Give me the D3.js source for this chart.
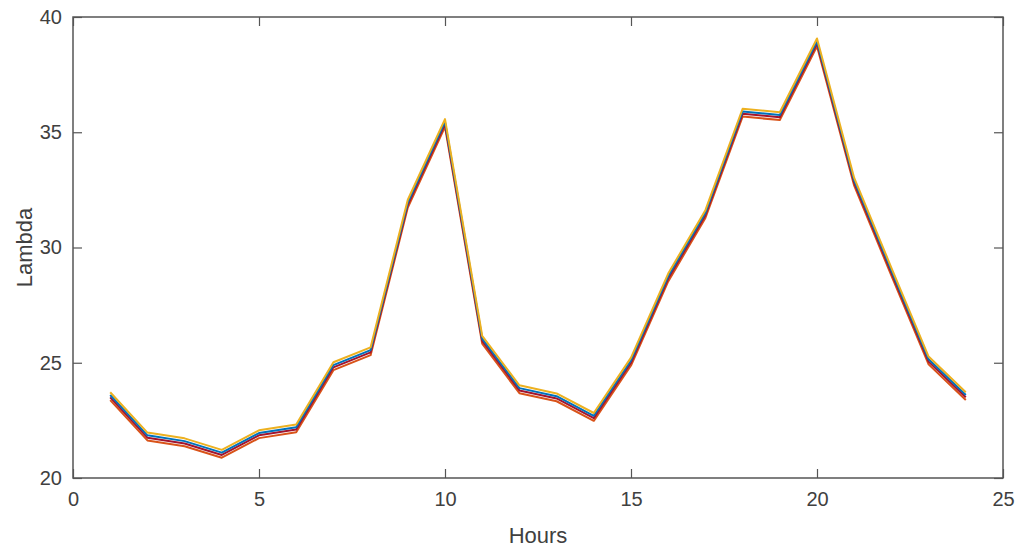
<!DOCTYPE html>
<html>
<head>
<meta charset="utf-8">
<script src="https://cdn.jsdelivr.net/npm/d3@7"></script>
<style>
  body { margin: 0; background: #fff; }
  text { font-family: "Liberation Sans", Arial, sans-serif; fill: #404040; }
</style>
</head>
<body>
<svg width="1024" height="552"></svg>
<script>
var hours = d3.range(1, 25);
var xTicks = [0, 5, 10, 15, 20, 25];
var yTicks = [20, 25, 30, 35, 40];

// one series per colour, bottom line first
var orange = [23.38,21.63,21.38,20.88,21.73,21.98,24.68,25.33,31.73,35.23,25.83,23.68,23.33,22.48,24.88,28.53,31.28,35.68,35.53,38.73,32.68,28.78,24.93,23.38];
var darkred = [23.5,21.75,21.5,21.0,21.85,22.1,24.8,25.45,31.85,35.35,25.95,23.8,23.45,22.6,25.0,28.65,31.4,35.8,35.65,38.85,32.8,28.9,25.05,23.5];
var blue = [23.6,21.85,21.6,21.1,21.95,22.2,24.9,25.55,31.95,35.45,26.05,23.9,23.55,22.7,25.1,28.75,31.5,35.9,35.75,38.95,32.9,29.0,25.15,23.6];
var yellow = [23.72,21.97,21.72,21.22,22.07,22.32,25.02,25.67,32.07,35.57,26.17,24.02,23.67,22.82,25.22,28.87,31.62,36.02,35.87,39.07,33.02,29.12,25.27,23.72];

var series = [
  { color: '#D95319', values: orange },
  { color: '#A2142F', values: darkred },
  { color: '#0072BD', values: blue },
  { color: '#EDB120', values: yellow }
];

var svg = d3.select('svg');
var pL = 73, pR = 1003, pT = 17, pB = 478;

var x = d3.scaleLinear().domain([0, 25]).range([pL, pR]);
var y = d3.scaleLinear().domain([20, 40]).range([pB, pT]);

var line = d3.line()
  .x(function(d, i) { return x(hours[i]); })
  .y(function(d) { return y(d); });

svg.append('g').selectAll('path')
  .data(series)
  .enter().append('path')
  .attr('d', function(d) { return line(d.values); })
  .attr('fill', 'none')
  .attr('stroke', function(d) { return d.color; })
  .attr('stroke-width', 2)
  .attr('stroke-linejoin', 'round');

var axisColor = '#555';
var tick = 9;

function styleAxis(g) {
  g.select('.domain').remove();
  g.selectAll('.tick line').attr('stroke', axisColor).attr('stroke-width', 1.2);
  g.selectAll('.tick text')
    .style('font-family', '"Liberation Sans", Arial, sans-serif')
    .style('font-size', '20px')
    .attr('fill', '#404040');
}

svg.append('g').attr('transform', 'translate(0,' + pB + ')')
  .call(d3.axisBottom(x).tickValues(xTicks).tickSize(-tick).tickPadding(14))
  .call(styleAxis);
svg.append('g').attr('transform', 'translate(0,' + pT + ')')
  .call(d3.axisTop(x).tickValues(xTicks).tickSize(-tick).tickFormat(''))
  .call(styleAxis);
svg.append('g').attr('transform', 'translate(' + pL + ',0)')
  .call(d3.axisLeft(y).tickValues(yTicks).tickSize(-tick).tickPadding(11))
  .call(styleAxis);
svg.append('g').attr('transform', 'translate(' + pR + ',0)')
  .call(d3.axisRight(y).tickValues(yTicks).tickSize(-tick).tickFormat(''))
  .call(styleAxis);

svg.append('rect')
  .attr('x', pL).attr('y', pT)
  .attr('width', pR - pL).attr('height', pB - pT)
  .attr('fill', 'none')
  .attr('stroke', axisColor)
  .attr('stroke-width', 1.5);

svg.append('text')
  .attr('x', (pL + pR) / 2).attr('y', 543)
  .attr('text-anchor', 'middle')
  .style('font-size', '22px')
  .text('Hours');

svg.append('text')
  .attr('transform', 'translate(32,' + ((pT + pB) / 2) + ') rotate(-90)')
  .attr('text-anchor', 'middle')
  .style('font-size', '22px')
  .text('Lambda');
</script>
</body>
</html>
